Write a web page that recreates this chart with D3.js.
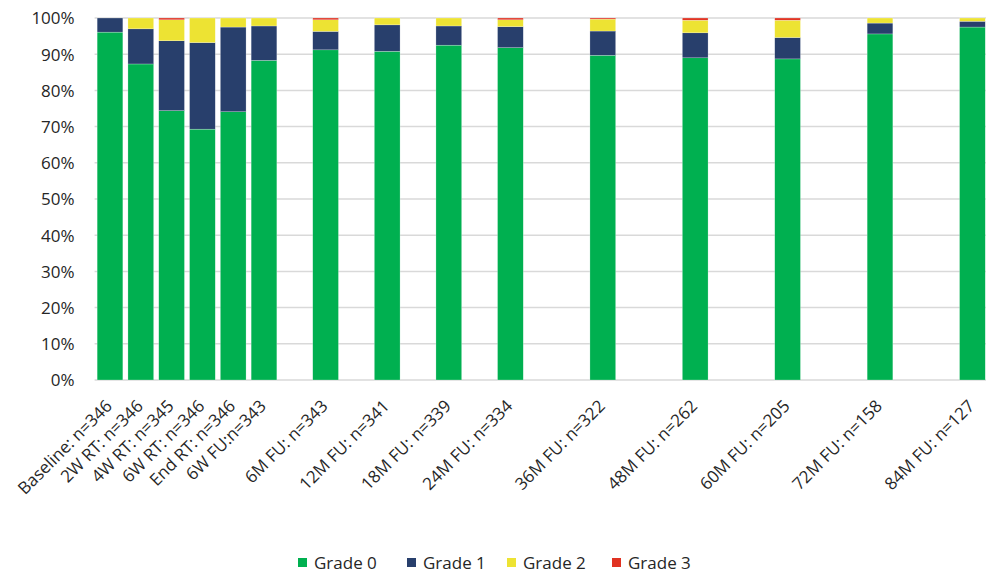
<!DOCTYPE html>
<html><head><meta charset="utf-8">
<script src="https://cdn.jsdelivr.net/npm/d3@7"></script>
<style>
html,body{margin:0;padding:0;background:#fff;}
text{font-family:"Open Sans",sans-serif;fill:#262626;}
</style></head>
<body><svg id="chart" width="986" height="574"></svg>
<script>
// Category slots (blank entries are empty slots, as in the source sheet)
const categories = ["Baseline: n=346","2W RT: n=346","4W RT: n=345","6W RT: n=346","End RT: n=346","6W FU:n=343","",
  "6M FU: n=343","","12M FU: n=341","","18M FU: n=339","","24M FU: n=334","","",
  "36M FU: n=322","","","48M FU: n=262","","","60M FU: n=205","","","72M FU: n=158","","","84M FU: n=127"];
const seriesNames = ["Grade 0","Grade 1","Grade 2","Grade 3"];
const grade0 = [96.1, 87.3, 74.4, 69.3, 74.1, 88.3, 91.2, 90.8, 92.5, 91.8, 89.7, 89.0, 88.7, 95.6, 97.5];
const grade1 = [3.9, 9.7, 19.3, 23.9, 23.4, 9.5, 5.1, 7.3, 5.3, 5.8, 6.7, 6.9, 5.9, 3.0, 1.6];
const grade2 = [0, 3.0, 5.8, 6.8, 2.5, 2.2, 3.2, 1.9, 2.2, 1.9, 3.3, 3.5, 4.8, 1.4, 0.9];
const grade3 = [0, 0, 0.5, 0, 0, 0, 0.5, 0, 0, 0.5, 0.3, 0.6, 0.6, 0, 0];
const yTicks = [0,10,20,30,40,50,60,70,80,90,100];
const colors = ["#00B050","#283F6C","#EDE333","#E03222"];

const svg = d3.select("#chart");
const mLeft = 94.6, mRight = 987.8, mTop = 18, mBottom = 380;

const x = d3.scaleBand().domain(categories.map((c,i)=>i)).range([mLeft,mRight])
  .paddingInner(0.165).paddingOuter(0.0825);
const y = d3.scaleLinear().domain([0,100]).range([mBottom,mTop]);

const filled = categories.map((c,i)=>({c,i})).filter(d=>d.c!=="");
const rows = filled.map((d,k)=>({slot:d.i, label:d.c, "Grade 0":grade0[k], "Grade 1":grade1[k], "Grade 2":grade2[k], "Grade 3":grade3[k]}));
const stacked = d3.stack().keys(seriesNames)(rows);

svg.append("g").selectAll("line").data(yTicks).join("line")
  .attr("x1",mLeft).attr("x2",mRight).attr("y1",d=>y(d)).attr("y2",d=>y(d))
  .attr("stroke","#d9d9d9").attr("stroke-width",1.5);

const yAxis = d3.axisLeft(y).tickValues(yTicks).tickFormat(d=>d+"%").tickSize(0).tickPadding(20);
const ya = svg.append("g").attr("transform",`translate(${mLeft},0)`).call(yAxis);
ya.select(".domain").remove();
ya.selectAll("text").style("font-size","17px").style("font-family","'Open Sans',sans-serif").attr("dy","0.35em").attr("fill","#262626");

svg.append("g").selectAll("g").data(stacked).join("g")
  .attr("fill",(d,i)=>colors[i])
  .selectAll("rect").data(d=>d).join("rect")
  .attr("x",d=>x(d.data.slot)).attr("width",x.bandwidth())
  .attr("y",d=>y(d[1])).attr("height",d=>Math.max(0,y(d[0])-y(d[1])))
  .attr("stroke","#ffffff").attr("stroke-width",0.4).attr("stroke-opacity",0.6);

const xa = d3.axisBottom(x).tickFormat(i=>categories[i]).tickSize(0).tickValues(filled.map(d=>d.i));
const xg = svg.append("g").attr("transform",`translate(0,${mBottom})`).call(xa);
xg.select(".domain").remove();
xg.selectAll("text").style("font-size","17px").style("font-family","'Open Sans',sans-serif").attr("text-anchor","end")
  .attr("transform","translate(-1,23) rotate(-45)").attr("dy","0.35em").attr("y",0).attr("x",0).attr("fill","#262626");

const legX = [298, 407, 507, 612];
const leg = svg.append("g").selectAll("g").data(seriesNames).join("g")
  .attr("transform",(d,i)=>`translate(${legX[i]},563)`);
leg.append("rect").attr("x",0).attr("y",-5).attr("width",9).attr("height",9).attr("fill",(d,i)=>colors[i]);
leg.append("text").attr("x",16).attr("y",0).attr("dy","0.35em").style("font-size","17px").text(d=>d);
</script></body></html>
